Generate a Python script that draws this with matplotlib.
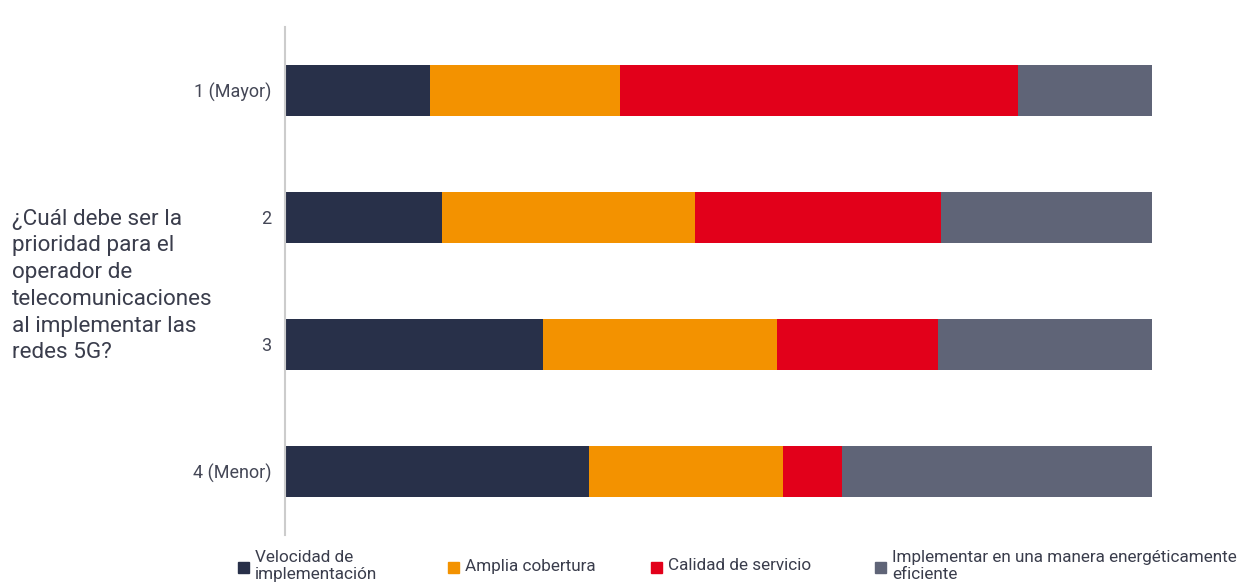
import matplotlib.pyplot as plt
from matplotlib.patches import Rectangle

plt.rcParams['font.family'] = ['Roboto', 'DejaVu Sans']

# data (percent of respondents per priority rank)
ranks = ['1 (Mayor)', '2', '3', '4 (Menor)']
velocidad = [16.7, 18.1, 29.8, 35.1]
cobertura = [21.9, 29.2, 26.9, 22.3]
calidad = [45.9, 28.4, 18.6, 6.9]
eficiente = [15.5, 24.3, 24.7, 35.7]

series = [velocidad, cobertura, calidad, eficiente]
names = ['Velocidad de\nimplementación', 'Amplia cobertura',
         'Calidad de servicio', 'Implementar en una manera energéticamente\neficiente']
colors = ['#283049', '#f39200', '#e2001a', '#5f6477']

fig = plt.figure(figsize=(12.56, 5.84), dpi=100)
ax = fig.add_axes([0.2269, 0.0839, 0.6903, 0.8699])

y = list(range(len(ranks)))
left = [0] * len(ranks)
for vals, c in zip(series, colors):
    ax.barh(y, vals, left=left, height=0.4, color=c)
    left = [l + v for l, v in zip(left, vals)]

ax.set_xlim(0, 100)
ax.set_ylim(3.5, -0.5)
ax.set_yticks(y)
ax.set_yticklabels(ranks, fontsize=13, color='#444756')
ax.tick_params(axis='y', length=0, pad=10)
ax.set_xticks([])
for s in ['top', 'right', 'bottom']:
    ax.spines[s].set_visible(False)
ax.spines['left'].set_color('#cccccc')
ax.spines['left'].set_linewidth(1.5)

# question text on the left
fig.text(12 / 1256, 1 - 286 / 584,
         '¿Cuál debe ser la\nprioridad para el\noperador de\ntelecomunicaciones\nal implementar las\nredes 5G?',
         fontsize=16.2, color='#3a3d4c', va='center', ha='left', linespacing=1.36)

# legend along the bottom
leg_x = [238, 448, 651, 875]
for lx, c, n in zip(leg_x, colors, names):
    fig.add_artist(Rectangle((lx / 1256, 1 - 573 / 584), 11 / 1256, 11 / 584,
                             color=c, transform=fig.transFigure))
    fig.text((lx + 17) / 1256, 1 - 566 / 584, n, fontsize=12.3, color='#3a3d4c',
             va='center', ha='left', linespacing=1.2)

plt.savefig('out.png', dpi=100)
